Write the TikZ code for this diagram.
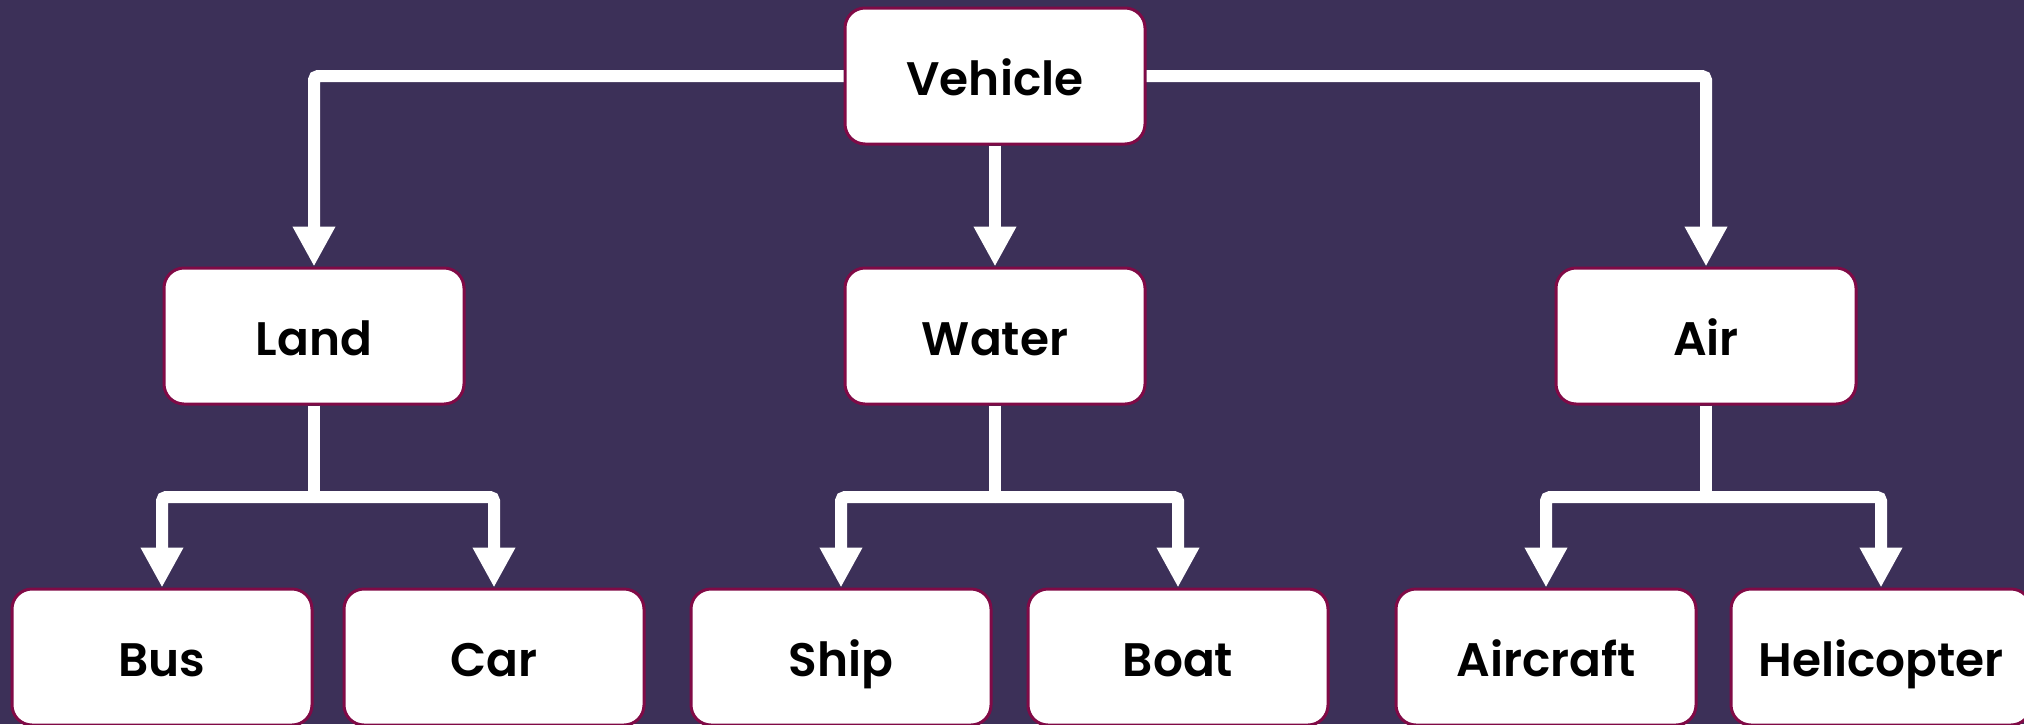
\documentclass[tikz,border=0pt]{standalone}
\usepackage{fontspec}
\setmainfont{Poppins}[BoldFont={Poppins SemiBold}]
\usetikzlibrary{arrows.meta}
\definecolor{bg}{RGB}{60,48,88}
\definecolor{edge}{RGB}{128,10,70}
\begin{document}
\begin{tikzpicture}[x=0.5pt,y=-0.5pt,
  box/.style={draw=edge, line width=1.5pt, fill=white, rounded corners=10pt,
    minimum width=150pt, minimum height=68pt, inner sep=0pt,
    text height=23pt, text depth=3.5pt,
    font=\fontsize{23.5}{28}\selectfont\bfseries, text=black},
  conn/.style={draw=white, line width=6pt, rounded corners=2pt},
  arr/.style={conn, -{Triangle[width=20pt,length=20pt]}}]
\fill[bg] (0,0) rectangle (2024,724);
\useasboundingbox (0,0) rectangle (2024,724);
% nodes
\node[box] (veh) at (995,76) {Vehicle};
\node[box] (land) at (314,336) {Land};
\node[box] (water) at (995,336) {Water};
\node[box] (air) at (1706,336) {Air};
\node[box] (bus) at (162,657) {Bus};
\node[box] (car) at (494,657) {Car};
\node[box] (ship) at (841,657) {Ship};
\node[box] (boat) at (1178,657) {Boat};
\node[box] (aircraft) at (1546,657) {Aircraft};
\node[box] (heli) at (1881,657) {Helicopter};
% junctions
\coordinate (lj) at (314,497);
\coordinate (wj) at (995,497);
\coordinate (aj) at (1706,497);
% connectors level 1
\draw[arr] (veh.west) -| (land.north);
\draw[arr] (veh.south) -- (water.north);
\draw[arr] (veh.east) -| (air.north);
% connectors level 2
\draw[conn] (land.south) -- (lj);
\draw[arr] (lj) -| (bus.north);
\draw[arr] (lj) -| (car.north);
\draw[conn] (water.south) -- (wj);
\draw[arr] (wj) -| (ship.north);
\draw[arr] (wj) -| (boat.north);
\draw[conn] (air.south) -- (aj);
\draw[arr] (aj) -| (aircraft.north);
\draw[arr] (aj) -| (heli.north);
\end{tikzpicture}
\end{document}
